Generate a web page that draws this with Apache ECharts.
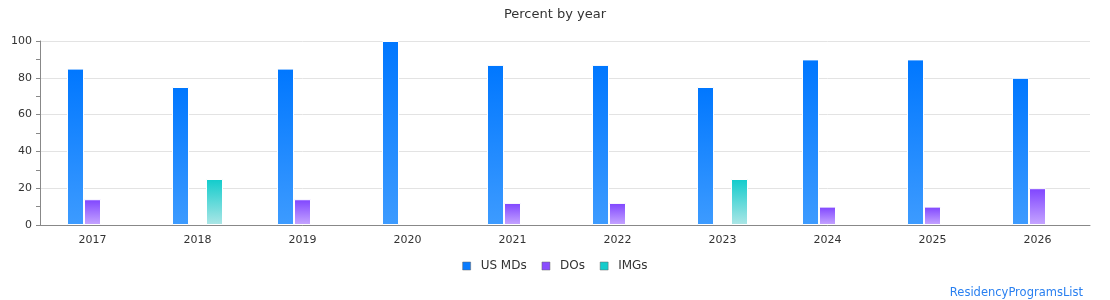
<!DOCTYPE html>
<html>
<head>
<meta charset="utf-8">
<script src="https://cdn.jsdelivr.net/npm/echarts@6/dist/echarts.min.js"></script>
<style>
  html, body { margin: 0; padding: 0; background: #fff; }
  #chart { width: 1110px; height: 300px; }
</style>
</head>
<body>
<div id="chart"></div>
<script>
const years = ['2017', '2018', '2019', '2020', '2021', '2022', '2023', '2024', '2025', '2026']
const usMDs = [85, 75, 85, 100, 87, 87, 75, 90, 90, 80]
const dOs = [14, 0, 14, 0, 12, 12, 0, 10, 10, 20]
const iMGs = [0, 25, 0, 0, 0, 0, 25, 0, 0, 0]

function grad(top, bottom) {
  return new echarts.graphic.LinearGradient(0, 0, 0, 1, [
    { offset: 0, color: top },
    { offset: 1, color: bottom }
  ])
}

// zero means no bar drawn
const noZero = arr => arr.map(v => (v === 0 ? '-' : v))

const font = 'DejaVu Sans'
const chart = echarts.init(document.getElementById('chart'))

chart.setOption({
  animation: false,
  textStyle: { fontFamily: font },
  title: [
    {
      text: 'Percent by year',
      left: 'center',
      top: 3,
      textStyle: { fontSize: 13, fontWeight: 'normal', color: '#333', fontFamily: font }
    },
    {
      text: 'ResidencyProgramsList',
      right: 22,
      top: 282,
      textStyle: { fontSize: 11.5, fontWeight: 'normal', color: '#2a80f0', fontFamily: font }
    }
  ],
  legend: {
    bottom: 23,
    left: 'center',
    itemWidth: 8,
    itemHeight: 8,
    itemGap: 15,
    icon: 'rect',
    textStyle: { fontSize: 12, color: '#333', fontFamily: font, padding: [0, 0, 0, 5] },
    data: [
      { name: 'US MDs', itemStyle: { color: '#0a7cff', borderColor: '#666', borderWidth: 0.5 } },
      { name: 'DOs', itemStyle: { color: '#8a4dff', borderColor: '#666', borderWidth: 0.5 } },
      { name: 'IMGs', itemStyle: { color: '#14cccc', borderColor: '#666', borderWidth: 0.5 } }
    ]
  },
  grid: { left: 40, right: 20, top: 41, bottom: 75 },
  xAxis: {
    type: 'category',
    data: years,
    axisLine: { lineStyle: { color: '#888' } },
    axisTick: { show: false },
    axisLabel: { color: '#333', fontSize: 11, margin: 10 }
  },
  yAxis: {
    type: 'value',
    min: 0,
    max: 100,
    interval: 20,
    axisLine: { show: true, lineStyle: { color: '#888' } },
    axisTick: { show: true, length: 4, lineStyle: { color: '#888' } },
    minorTick: { show: true, splitNumber: 2, length: 4, lineStyle: { color: '#888' } },
    axisLabel: { color: '#333', fontSize: 11, margin: 8 },
    splitLine: { lineStyle: { color: '#e3e3e3' } }
  },
  series: [
    {
      name: 'US MDs',
      type: 'bar',
      data: noZero(usMDs),
      barWidth: 17,
      barGap: '0%',
      itemStyle: { color: grad('#0077ff', '#3d9bff'), borderColor: '#fff', borderWidth: 1 }
    },
    {
      name: 'DOs',
      type: 'bar',
      data: noZero(dOs),
      barWidth: 17,
      barGap: '0%',
      itemStyle: { color: grad('#7f44ff', '#c6a6ff'), borderColor: '#fff', borderWidth: 1 }
    },
    {
      name: 'IMGs',
      type: 'bar',
      data: noZero(iMGs),
      barWidth: 17,
      barGap: '0%',
      itemStyle: { color: grad('#10cccc', '#ade6e6'), borderColor: '#fff', borderWidth: 1 }
    }
  ]
})
</script>
</body>
</html>
